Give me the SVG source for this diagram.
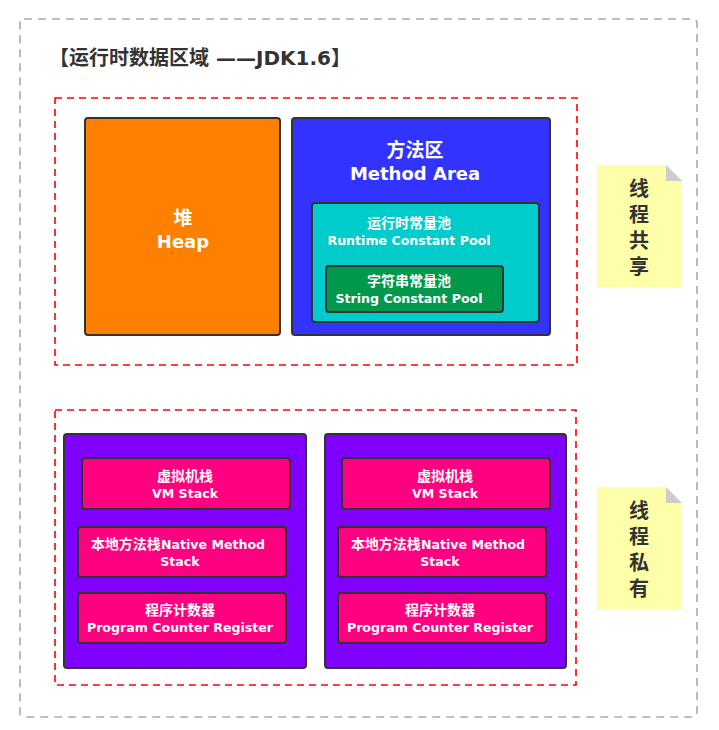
<svg xmlns="http://www.w3.org/2000/svg" width="719" height="730" viewBox="0 0 719 730">
<style>
.t{font-family:"DejaVu Sans","Noto Sans CJK SC",sans-serif;font-weight:bold;fill:#fff;text-anchor:middle}
.s{font-size:12.6px}
.c{font-size:14px}
.box{stroke:#333;stroke-width:2}
.red{fill:none;stroke:#ff0000;stroke-width:1.6;stroke-dasharray:7,5}
.note{fill:#ffffaa}
.fold{fill:#cccccc}
.nt{font-family:"Noto Sans CJK SC",sans-serif;font-weight:bold;fill:#333;font-size:20px;writing-mode:tb;letter-spacing:6px}
</style>
<rect x="20" y="19" width="677" height="698" rx="4" fill="none" stroke="#aaa" stroke-width="1.6" stroke-dasharray="8,6"/>
<text x="49" y="65" font-family="DejaVu Sans,Noto Sans CJK SC,sans-serif" font-weight="bold" font-size="20" fill="#333">【运行时数据区域 ——JDK1.6】</text>
<g id="shared">
<rect class="red" x="55" y="98" width="522" height="267"/>
<g id="heap">
<rect class="box" x="85" y="118" width="195" height="217" rx="3" fill="#ff8000"/>
<text class="t" x="183" y="225" font-size="19">堆<tspan x="183" y="248" font-size="18">Heap</tspan></text>
</g>
<g id="method">
<rect class="box" x="292" y="118" width="258" height="217" rx="3" fill="#3333ff"/>
<text class="t" x="415" y="157" font-size="19">方法区<tspan x="415" y="180" font-size="18">Method Area</tspan></text>
</g>
<g id="rcp">
<rect class="box" x="312" y="203" width="227" height="119" rx="3" fill="#00cccc"/>
<text class="t c" x="409" y="228">运行时常量池<tspan class="s" x="409" y="245">Runtime Constant Pool</tspan></text>
</g>
<g id="scp">
<rect class="box" x="326" y="266" width="177" height="46" rx="3" fill="#00994c"/>
<text class="t c" x="409" y="286">字符串常量池<tspan class="s" x="409" y="303">String Constant Pool</tspan></text>
</g>
</g>
<g id="note-shared">
<path class="note" d="M597 165 H666 L682 181 V287 H597 Z"/>
<path class="fold" d="M666 165 L682 181 H666 Z"/>
<text class="nt" x="639" y="178">线程共享</text>
</g>
<g id="private">
<rect class="red" x="55" y="410" width="521" height="275"/>
<g id="thread1">
<rect class="box" x="64" y="434" width="242" height="234" rx="3" fill="#7f00ff"/>
<rect class="box" x="82" y="458" width="208" height="51" rx="3" fill="#ff0080"/>
<text class="t c" x="185" y="481">虚拟机栈<tspan class="s" x="185" y="498">VM Stack</tspan></text>
<rect class="box" x="78" y="527" width="208" height="50" rx="3" fill="#ff0080"/>
<text class="t c" x="178" y="549">本地方法栈<tspan class="s">Native Method</tspan><tspan class="s" x="180" y="566">Stack</tspan></text>
<rect class="box" x="78" y="593" width="208" height="50" rx="3" fill="#ff0080"/>
<text class="t c" x="180" y="615">程序计数器<tspan class="s" x="180" y="632">Program Counter Register</tspan></text>
</g>
<g id="thread2">
<rect class="box" x="325" y="434" width="241" height="234" rx="3" fill="#7f00ff"/>
<rect class="box" x="342" y="458" width="208" height="51" rx="3" fill="#ff0080"/>
<text class="t c" x="445" y="481">虚拟机栈<tspan class="s" x="445" y="498">VM Stack</tspan></text>
<rect class="box" x="338" y="527" width="208" height="50" rx="3" fill="#ff0080"/>
<text class="t c" x="438" y="549">本地方法栈<tspan class="s">Native Method</tspan><tspan class="s" x="440" y="566">Stack</tspan></text>
<rect class="box" x="338" y="593" width="208" height="50" rx="3" fill="#ff0080"/>
<text class="t c" x="440" y="615">程序计数器<tspan class="s" x="440" y="632">Program Counter Register</tspan></text>
</g>
</g>
<g id="note-private">
<path class="note" d="M597 487 H666 L682 503 V610 H597 Z"/>
<path class="fold" d="M666 487 L682 503 H666 Z"/>
<text class="nt" x="639" y="500">线程私有</text>
</g>
<g id="connectors"></g>
</svg>
